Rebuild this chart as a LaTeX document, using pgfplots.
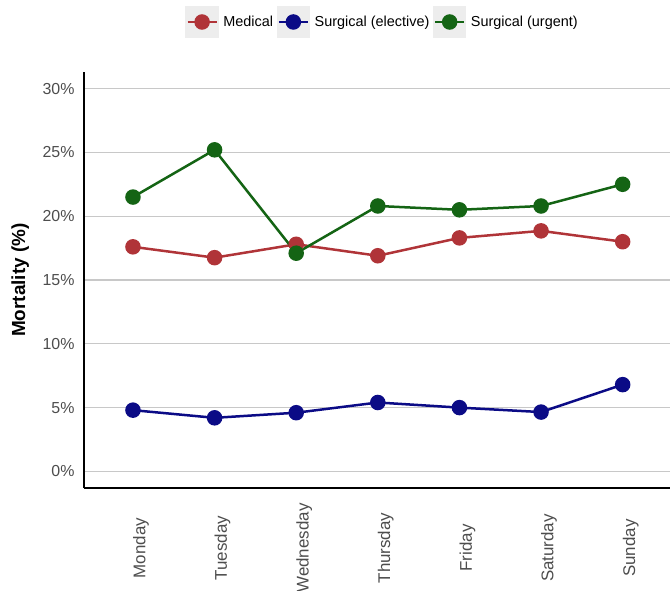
\documentclass[border=0pt]{standalone}
\usepackage{fontspec}
\setmainfont{Liberation Sans}
\usepackage{pgfplots}
\pgfplotsset{compat=1.18}
\usetikzlibrary{calc}

\definecolor{medred}{HTML}{B03438}
\definecolor{selnavy}{HTML}{0B0B86}
\definecolor{urggreen}{HTML}{146414}
\definecolor{ticktxt}{HTML}{4D4D4D}
\definecolor{gridc}{HTML}{C8C8C8}

\begin{document}
\begin{tikzpicture}[x=1bp,y=1bp]
\begin{axis}[
    scale only axis,
    width=586bp, height=416bp,
    xmin=-0.6, xmax=6.58,
    ymin=-1.3, ymax=31.3,
    axis x line*=bottom, axis y line*=left,
    axis line style={line width=2.4bp, black},
    xtick={0,1,2,3,4,5,6},
    xticklabels={Monday,Tuesday,Wednesday,Thursday,Friday,Saturday,Sunday},
    ytick={0,5,10,15,20,25,30},
    yticklabel={\pgfmathprintnumber{\tick}\%},
    major tick length=0pt,
    ymajorgrids,
    grid style={gridc, line width=1.2bp},
    x tick label style={rotate=90, anchor=center, xshift=-60bp, yshift=-8bp, font=\fontsize{17}{19}\selectfont, text=ticktxt},
    y tick label style={font=\fontsize{16}{18}\selectfont, text=ticktxt, xshift=-6bp},
    /pgf/number format/assume math mode=true,
    ylabel={\textbf{Mortality (\%)}},
    ylabel style={at={(axis description cs:-0.109,0.5)}, anchor=center, font=\fontsize{19}{21}\selectfont},
    every axis plot/.append style={line width=2.5bp, mark=*, mark size=6.5bp},
    legend columns=3,
    legend style={at={(axis description cs:0.509,1)}, anchor=center, yshift=50bp, draw=none,
        font=\fontsize{14.5}{16}\selectfont, inner sep=0pt,
        nodes={inner sep=1.5bp},
        /tikz/every even column/.append style={column sep=2bp},
        /tikz/every odd column/.append style={column sep=3bp}},
    legend image code/.code={
        \fill[black!7] (0bp,-15bp) rectangle (31bp,15bp);
        \draw[mark repeat=2, mark phase=2, #1] plot coordinates {(1bp,0bp) (15.5bp,0bp) (30bp,0bp)};
    },
]
\addplot[medred, mark options={fill=medred, draw=medred}] coordinates {
    (0,17.6) (1,16.75) (2,17.8) (3,16.9) (4,18.3) (5,18.85) (6,18.0)
};
\addlegendentry{Medical}
\addplot[selnavy, mark options={fill=selnavy, draw=selnavy}] coordinates {
    (0,4.8) (1,4.2) (2,4.6) (3,5.4) (4,5.0) (5,4.65) (6,6.8)
};
\addlegendentry{Surgical (elective)}
\addplot[urggreen, mark options={fill=urggreen, draw=urggreen}] coordinates {
    (0,21.5) (1,25.2) (2,17.1) (3,20.8) (4,20.5) (5,20.8) (6,22.5)
};
\addlegendentry{Surgical (urgent)}
\end{axis}
\pgfresetboundingbox
\path[use as bounding box] ($(current axis.south west)+(-84bp,-103bp)$) rectangle ($(current axis.north east)+(0bp,72bp)$);
\end{tikzpicture}
\end{document}
